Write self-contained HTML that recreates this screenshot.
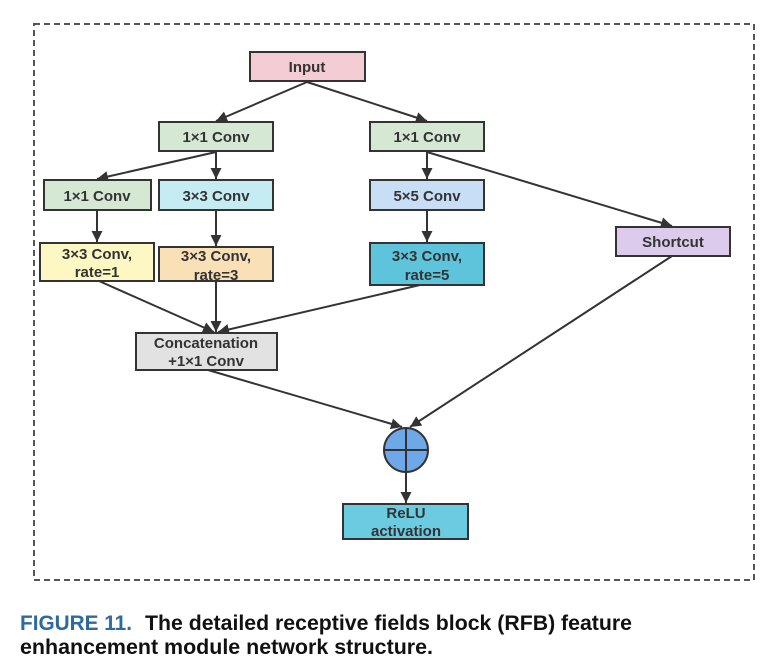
<!DOCTYPE html>
<html><head><meta charset="utf-8"><style>
html,body{margin:0;padding:0;background:#fff;}
svg{display:block;}
text{font-family:"Liberation Sans",sans-serif;}
</style></head><body>
<svg width="780" height="661" viewBox="0 0 780 661" xmlns="http://www.w3.org/2000/svg">
<defs>
<marker id="a" viewBox="0 0 10 10" refX="10" refY="5" markerWidth="12" markerHeight="11" markerUnits="userSpaceOnUse" orient="auto">
<path d="M0,0 L10,5 L0,10 z" fill="#333"/></marker>
</defs>
<rect x="34" y="24" width="720" height="556" fill="none" stroke="#555" stroke-width="2" stroke-dasharray="6,4"/>
<g stroke="#333" stroke-width="2" fill="none" marker-end="url(#a)">
<line x1="307" y1="82" x2="216" y2="121"/>
<line x1="307" y1="82" x2="427" y2="121"/>
<line x1="216" y1="152" x2="97" y2="179"/>
<line x1="216" y1="152" x2="216" y2="179"/>
<line x1="427" y1="152" x2="427" y2="179"/>
<line x1="427" y1="152" x2="672" y2="226"/>
<line x1="97" y1="211" x2="97" y2="242"/>
<line x1="216" y1="211" x2="216" y2="246"/>
<line x1="427" y1="211" x2="427" y2="242"/>
<line x1="99" y1="281" x2="214" y2="332"/>
<line x1="216" y1="281" x2="216" y2="332"/>
<line x1="420" y1="285" x2="218" y2="332"/>
<line x1="208" y1="370" x2="402" y2="427"/>
<line x1="672" y1="256" x2="410" y2="427"/>
<line x1="406" y1="472" x2="406" y2="503"/>
</g>
<g stroke="#333" stroke-width="2">
<rect x="250" y="52" width="115" height="29" fill="#f4cdd4"/>
<rect x="159" y="122" width="114" height="29" fill="#d5e8d4"/>
<rect x="370" y="122" width="114" height="29" fill="#d5e8d4"/>
<rect x="44" y="180" width="107" height="30" fill="#d5e8d4"/>
<rect x="159" y="180" width="114" height="30" fill="#c5ecf2"/>
<rect x="370" y="180" width="114" height="30" fill="#c8ddf6"/>
<rect x="40" y="243" width="114" height="38" fill="#fdf7c3"/>
<rect x="159" y="247" width="114" height="34" fill="#fae0b6"/>
<rect x="370" y="243" width="114" height="42" fill="#5ec4dc"/>
<rect x="616" y="227" width="114" height="29" fill="#dccbeb"/>
<rect x="136" y="333" width="141" height="37" fill="#e2e2e2"/>
<circle cx="406" cy="450" r="22" fill="#6fa8e8"/>
<line x1="384" y1="450" x2="428" y2="450"/>
<line x1="406" y1="428" x2="406" y2="472"/>
<rect x="343" y="504" width="125" height="35" fill="#6bcbe0"/>
</g>
<g fill="#333" font-size="15" font-weight="bold" text-anchor="middle">
<text x="307" y="72">Input</text>
<text x="216" y="142">1×1 Conv</text>
<text x="427" y="142">1×1 Conv</text>
<text x="97" y="201">1×1 Conv</text>
<text x="216" y="201">3×3 Conv</text>
<text x="427" y="201">5×5 Conv</text>
<text x="97" y="259">3×3 Conv,</text>
<text x="97" y="277">rate=1</text>
<text x="216" y="261">3×3 Conv,</text>
<text x="216" y="280">rate=3</text>
<text x="427" y="261">3×3 Conv,</text>
<text x="427" y="280">rate=5</text>
<text x="673" y="247">Shortcut</text>
<text x="206" y="348">Concatenation</text>
<text x="206" y="366">+1×1 Conv</text>
<text x="406" y="518">ReLU</text>
<text x="406" y="536">activation</text>
</g>
<g font-size="21" font-weight="bold">
<text x="20" y="630" fill="#2e6a9e" textLength="112" lengthAdjust="spacingAndGlyphs">FIGURE 11.</text>
<text x="145" y="630" fill="#111" textLength="487" lengthAdjust="spacingAndGlyphs">The detailed receptive fields block (RFB) feature</text>
<text x="20" y="654" fill="#111" textLength="413" lengthAdjust="spacingAndGlyphs">enhancement module network structure.</text>
</g>
</svg>
</body></html>
